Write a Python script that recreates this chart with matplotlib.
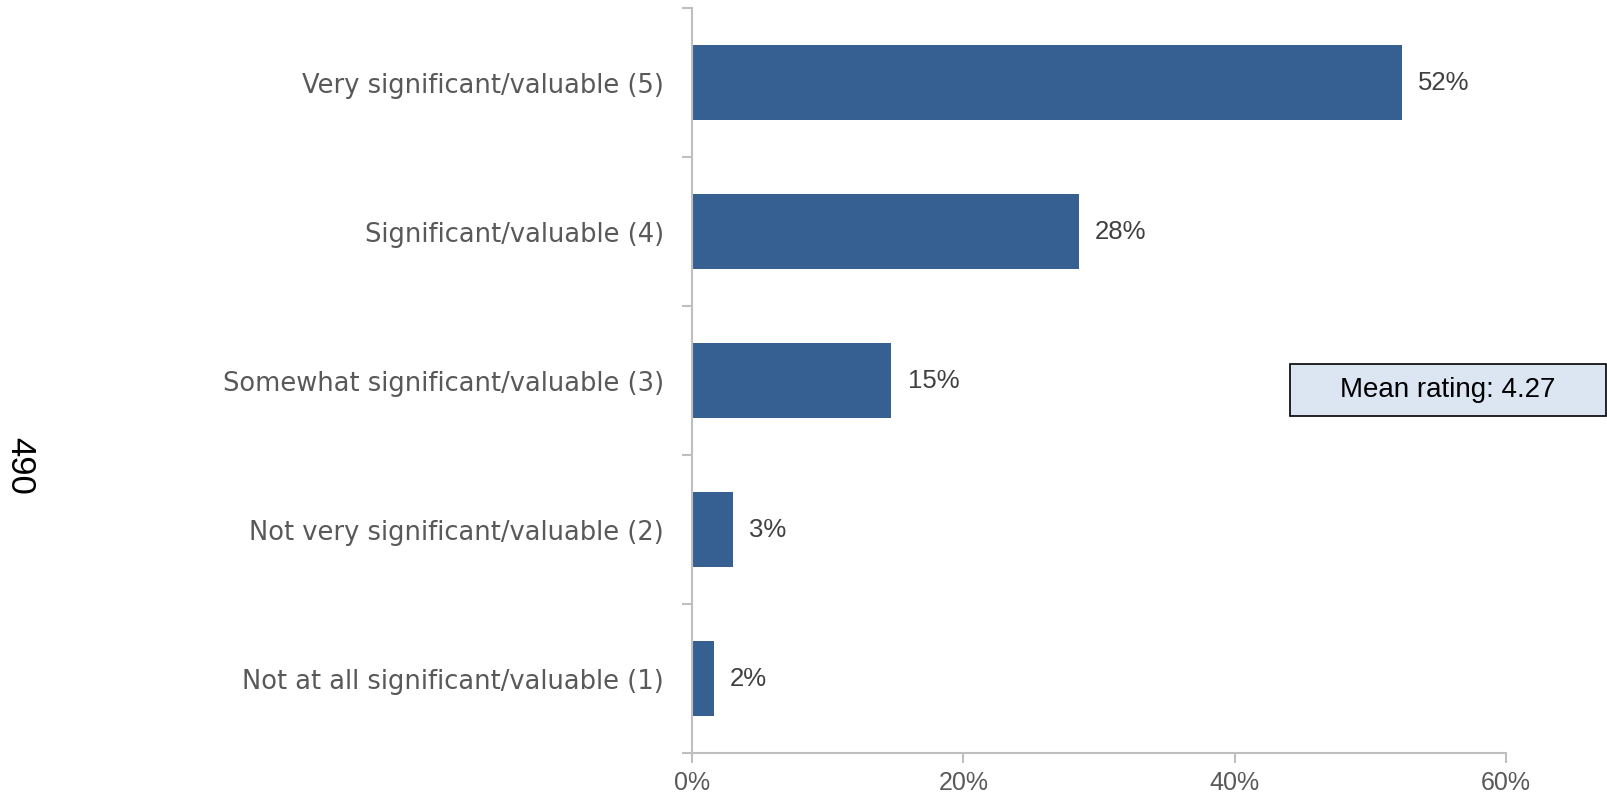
import matplotlib.pyplot as plt
from matplotlib.patches import Rectangle
import numpy as np

# dados
categorias = ['Very significant/valuable (5)',
              'Significant/valuable (4)',
              'Somewhat significant/valuable (3)',
              'Not very significant/valuable (2)',
              'Not at all significant/valuable (1)']
valores = [52.3, 28.5, 14.7, 3.0, 1.6]
rotulos = ['52%', '28%', '15%', '3%', '2%']
ticks_x = [0, 20, 40, 60]
n_base = '490'
media = 'Mean rating: 4.27'

cor_barra = '#366092'
cor_eixo = '#BFBFBF'

fig = plt.figure(figsize=(16.08, 7.94), dpi=100)
ax = fig.add_axes([0.4303, 0.0516, 0.5063, 0.9383])

y = np.arange(len(categorias))
ax.barh(y, valores, height=0.5, color=cor_barra)

for yi, v, r in zip(y, valores, rotulos):
    ax.text(v + 1.2, yi, r, va='center', ha='left', fontsize=18.5,
            color='#404040', family='Liberation Sans')

ax.set_ylim(len(categorias) - 0.5, -0.5)
ax.set_xlim(0, 60)

# ticks nas divisas das categorias, rotulos no centro
ax.set_yticks(np.arange(-0.5, len(categorias), 1))
ax.set_yticklabels([])
ax.set_yticks(y, minor=True)
ax.set_yticklabels(categorias, minor=True, fontsize=18.5, color='#595959',
                   family='DejaVu Sans')
ax.tick_params(axis='y', which='minor', length=0, pad=20)
ax.tick_params(axis='y', which='major', length=7, color=cor_eixo, width=1.5)

ax.set_xticks(ticks_x)
ax.set_xticklabels([f'{t}%' for t in ticks_x], fontsize=18, color='#595959',
                   family=['Liberation Sans Narrow', 'Liberation Sans'])
ax.tick_params(axis='x', length=7, color=cor_eixo, width=1.5, pad=6)

for s in ['top', 'right']:
    ax.spines[s].set_visible(False)
for s in ['left', 'bottom']:
    ax.spines[s].set_color(cor_eixo)
    ax.spines[s].set_linewidth(1.5)

fig.text(0.0124, 0.413, n_base, rotation=270, fontsize=25, va='center',
         ha='center', family='Liberation Sans', color='black')

# caixa da media
fig.patches.append(Rectangle((0.8022, 0.476), 0.1965, 0.0655,
                             transform=fig.transFigure, facecolor='#DCE6F2',
                             edgecolor='black', linewidth=1.2))
fig.text(0.9005, 0.5087, media, ha='center', va='center', fontsize=20,
         family='Liberation Sans', color='black')

plt.savefig('out.png', dpi=100)
